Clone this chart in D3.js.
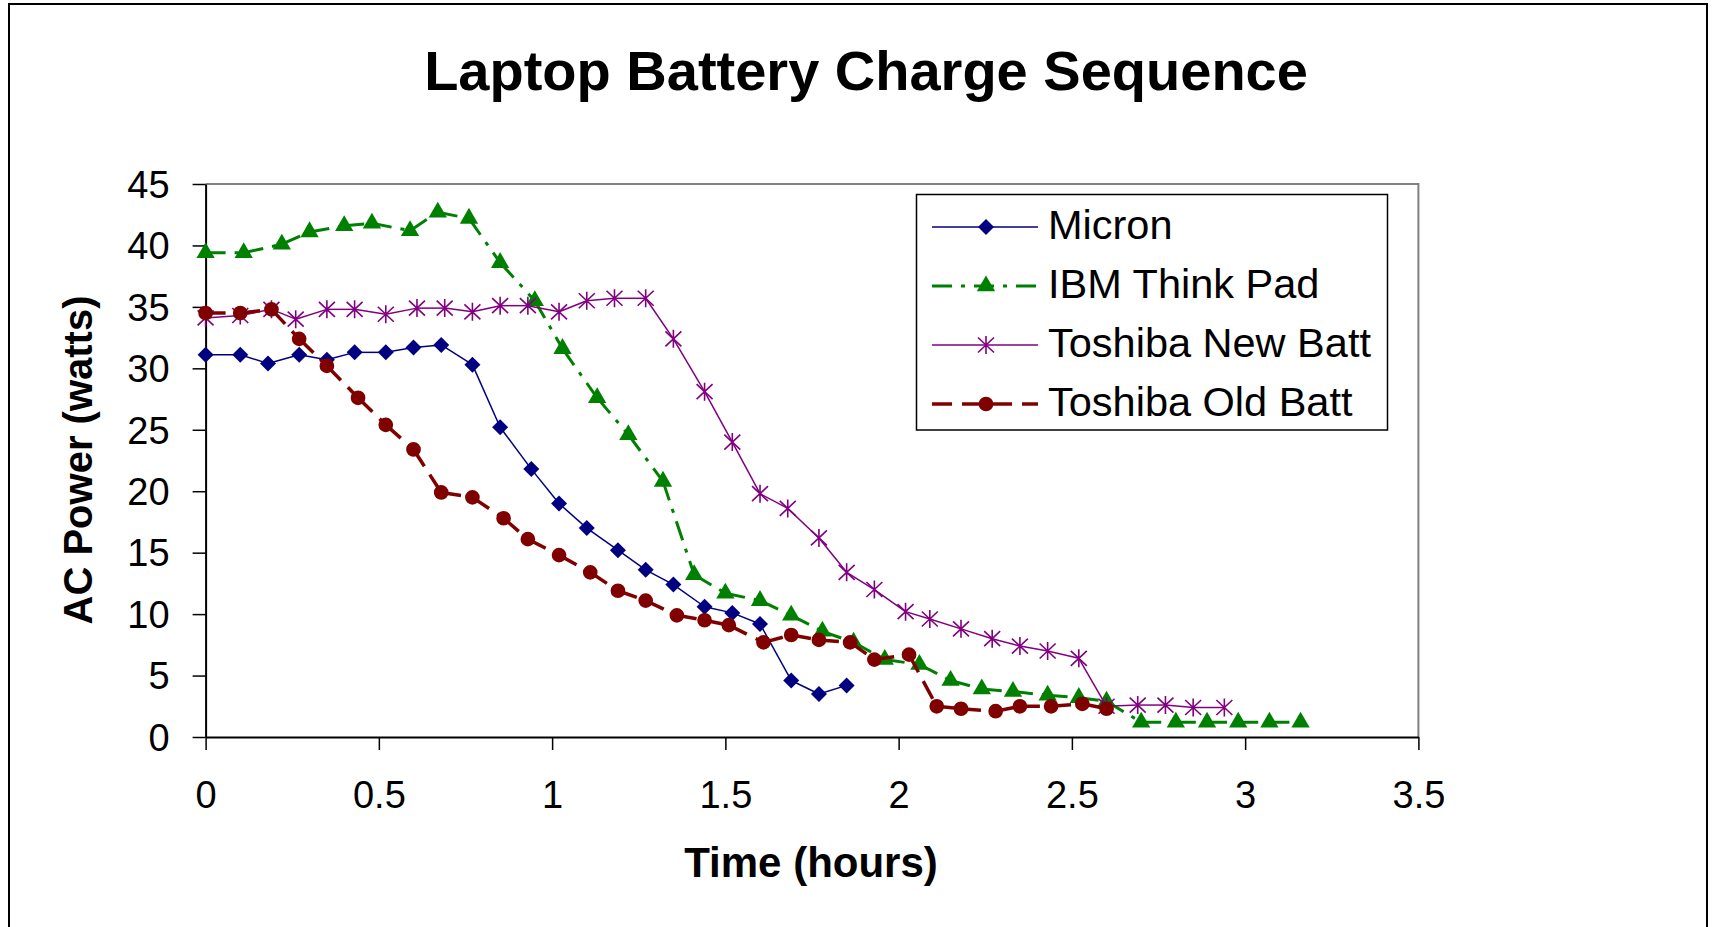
<!DOCTYPE html>
<html>
<head>
<meta charset="utf-8">
<script src="https://cdn.jsdelivr.net/npm/d3@7"></script>
<style>
    body { margin: 0; background: #fff; }
    #chart-area { width: 1715px; height: 927px; }
    text { font-family: "Liberation Sans", Arial, sans-serif; fill: #000; }
</style>
</head>
<body>
<div id="chart-area"></div>
<script>
// data (time in hours, AC power in watts)
const micronTime = [0, 0.10, 0.18, 0.27, 0.35, 0.43, 0.52, 0.60, 0.68, 0.77, 0.85, 0.94, 1.02, 1.10, 1.19, 1.27, 1.35, 1.44, 1.52, 1.60, 1.69, 1.77, 1.85];
const micronPower = [31.1, 31.1, 30.4, 31.1, 30.7, 31.3, 31.3, 31.7, 31.9, 30.3, 25.2, 21.8, 19.0, 17.0, 15.2, 13.6, 12.4, 10.6, 10.1, 9.2, 4.6, 3.5, 4.2];

const ibmTime = [0, 0.11, 0.22, 0.30, 0.40, 0.48, 0.59, 0.67, 0.76, 0.85, 0.95, 1.03, 1.13, 1.22, 1.32, 1.41, 1.50, 1.60, 1.69, 1.78, 1.87, 1.96, 2.06, 2.15, 2.24, 2.33, 2.43, 2.52, 2.60, 2.70, 2.80, 2.89, 2.98, 3.07, 3.16];
const ibmPower = [39.4, 39.4, 40.1, 41.1, 41.6, 41.8, 41.2, 42.7, 42.2, 38.6, 35.5, 31.6, 27.6, 24.6, 20.8, 13.2, 11.7, 11.1, 9.9, 8.6, 7.7, 6.3, 5.9, 4.6, 3.9, 3.7, 3.4, 3.2, 2.9, 1.2, 1.2, 1.2, 1.2, 1.2, 1.2];

const toshNewTime = [0, 0.10, 0.19, 0.26, 0.35, 0.43, 0.52, 0.61, 0.69, 0.77, 0.85, 0.93, 1.02, 1.10, 1.18, 1.27, 1.35, 1.44, 1.52, 1.60, 1.68, 1.77, 1.85, 1.93, 2.02, 2.09, 2.18, 2.27, 2.35, 2.43, 2.52, 2.60, 2.69, 2.77, 2.85, 2.94];
const toshNewPower = [34.1, 34.3, 34.8, 34.0, 34.8, 34.8, 34.4, 34.9, 34.9, 34.6, 35.1, 35.1, 34.6, 35.5, 35.7, 35.7, 32.4, 28.1, 24.0, 19.8, 18.6, 16.2, 13.4, 12.0, 10.2, 9.6, 8.8, 8.0, 7.4, 7.0, 6.4, 2.5, 2.6, 2.6, 2.4, 2.4];

const toshOldTime = [0, 0.10, 0.19, 0.27, 0.35, 0.44, 0.52, 0.60, 0.68, 0.77, 0.86, 0.93, 1.02, 1.11, 1.19, 1.27, 1.36, 1.44, 1.51, 1.61, 1.69, 1.77, 1.86, 1.93, 2.03, 2.11, 2.18, 2.28, 2.35, 2.44, 2.53, 2.60];
const toshOldPower = [34.5, 34.5, 34.8, 32.4, 30.2, 27.6, 25.4, 23.4, 19.9, 19.5, 17.8, 16.1, 14.8, 13.4, 11.9, 11.1, 9.9, 9.5, 9.1, 7.7, 8.3, 7.9, 7.7, 6.3, 6.7, 2.5, 2.3, 2.1, 2.5, 2.5, 2.7, 2.3];

const seriesNames = ["Micron", "IBM Think Pad", "Toshiba New Batt", "Toshiba Old Batt"];
const xTicks = [0, 0.5, 1, 1.5, 2, 2.5, 3, 3.5];
const yTicks = [0, 5, 10, 15, 20, 25, 30, 35, 40, 45];

class LineChart {
    constructor(parentElement) {
        this.parentElement = parentElement;
        this.initVis();
    }

    initVis() {
        let vis = this;

        vis.width = 1715;
        vis.height = 927;
        vis.plot = { left: 205.6, right: 1418.4, top: 184, bottom: 737 };

        vis.svg = d3.select("#" + vis.parentElement).append("svg")
            .attr("width", vis.width)
            .attr("height", vis.height);

        // outer chart frame
        vis.svg.append("rect")
            .attr("x", 9).attr("y", 4)
            .attr("width", 1698).attr("height", 1000)
            .attr("fill", "none")
            .attr("stroke", "#000")
            .attr("stroke-width", 2);

        // title
        vis.svg.append("text")
            .attr("x", 866).attr("y", 90)
            .attr("text-anchor", "middle")
            .attr("font-size", 56)
            .attr("font-weight", "bold")
            .text("Laptop Battery Charge Sequence");

        // scales
        vis.x = d3.scaleLinear().domain([0, 3.5]).range([vis.plot.left, vis.plot.right]);
        vis.y = d3.scaleLinear().domain([0, 45]).range([vis.plot.bottom, vis.plot.top]);

        // gray top / right border of plot area
        vis.svg.append("path")
            .attr("d", `M${vis.plot.left},${vis.plot.top}H${vis.plot.right}V${vis.plot.bottom}`)
            .attr("fill", "none")
            .attr("stroke", "#808080")
            .attr("stroke-width", 2);

        // axes
        let xAxis = vis.svg.append("g")
            .attr("transform", `translate(0, ${vis.plot.bottom})`)
            .call(d3.axisBottom(vis.x).tickValues(xTicks).tickSize(13).tickPadding(0).tickSizeOuter(0)
                .tickFormat(d => d));
        let yAxis = vis.svg.append("g")
            .attr("transform", `translate(${vis.plot.left}, 0)`)
            .call(d3.axisLeft(vis.y).tickValues(yTicks).tickSize(13).tickPadding(0).tickSizeOuter(0));

        [xAxis, yAxis].forEach(ax => {
            ax.select(".domain").attr("stroke", "#000").attr("stroke-width", 2);
            ax.selectAll(".tick line").attr("stroke", "#000").attr("stroke-width", 1.5);
            ax.selectAll(".tick text")
                .attr("font-family", "Liberation Sans, Arial, sans-serif")
                .attr("font-size", 38)
                .attr("fill", "#000");
        });
        xAxis.selectAll(".tick text").attr("y", 71).attr("dy", 0);
        yAxis.selectAll(".tick text").attr("x", -36).attr("dy", "0.35em");

        // axis titles
        vis.svg.append("text")
            .attr("x", 811).attr("y", 877)
            .attr("text-anchor", "middle")
            .attr("font-size", 42)
            .attr("font-weight", "bold")
            .text("Time (hours)");
        vis.svg.append("text")
            .attr("transform", "translate(92, 460) rotate(-90)")
            .attr("text-anchor", "middle")
            .attr("font-size", 40)
            .attr("font-weight", "bold")
            .text("AC Power (watts)");

        // marker shapes
        vis.markers = {
            diamond: "M0,-8L8,0L0,8L-8,0Z",
            triangle: d3.symbol().type(d3.symbolTriangle).size(145)(),
            asterisk: "M-8,-7.5L8,7.5M-8,7.5L8,-7.5M0,-9L0,9",
            circle: d3.symbol().type(d3.symbolCircle).size(170)()
        };

        vis.series = [
            { name: seriesNames[0], time: micronTime, power: micronPower, color: "#000080", width: 1.5, dash: null, marker: "diamond" },
            { name: seriesNames[1], time: ibmTime, power: ibmPower, color: "#008000", width: 3, dash: "20,9,4,9", marker: "triangle" },
            { name: seriesNames[2], time: toshNewTime, power: toshNewPower, color: "#800080", width: 1.5, dash: null, marker: "asterisk" },
            { name: seriesNames[3], time: toshOldTime, power: toshOldPower, color: "#800000", width: 3.5, dash: "20,10", marker: "circle" }
        ];

        this.wrangleData();
    }

    wrangleData() {
        let vis = this;
        vis.displayData = vis.series.map(s => ({
            ...s,
            points: s.time.map((t, i) => ({ t: t, p: s.power[i] }))
        }));
        vis.updateVis();
    }

    markerStyle(sel, s) {
        if (s.marker === "asterisk") {
            sel.attr("fill", "none").attr("stroke", s.color).attr("stroke-width", 1.6);
        } else {
            sel.attr("fill", s.color).attr("stroke", "none");
        }
    }

    updateVis() {
        let vis = this;

        vis.displayData.forEach(s => {
            let g = vis.svg.append("g").attr("class", "series");

            // Excel restarts the dash pattern on every segment
            g.selectAll(".seg")
                .data(d3.pairs(s.points))
                .enter().append("line")
                .attr("class", "seg")
                .attr("x1", d => vis.x(d[0].t))
                .attr("y1", d => vis.y(d[0].p))
                .attr("x2", d => vis.x(d[1].t))
                .attr("y2", d => vis.y(d[1].p))
                .attr("stroke", s.color)
                .attr("stroke-width", s.width)
                .attr("stroke-dasharray", s.dash);

            g.selectAll(".mark")
                .data(s.points)
                .enter().append("path")
                .attr("class", "mark")
                .attr("d", vis.markers[s.marker])
                .attr("transform", d => `translate(${vis.x(d.t)}, ${vis.y(d.p)})`)
                .call(sel => vis.markerStyle(sel, s));
        });

        // legend
        let legend = vis.svg.append("g").attr("class", "legend");
        legend.append("rect")
            .attr("x", 916.5).attr("y", 194.5)
            .attr("width", 471).attr("height", 235.5)
            .attr("fill", "#fff")
            .attr("stroke", "#000")
            .attr("stroke-width", 1.5);

        let rows = legend.selectAll(".legend-row")
            .data(vis.displayData)
            .enter().append("g")
            .attr("class", "legend-row")
            .attr("transform", (d, i) => `translate(0, ${227 + i * 59})`);

        rows.append("line")
            .attr("x1", 932).attr("x2", 1038)
            .attr("y1", 0).attr("y2", 0)
            .attr("stroke", d => d.color)
            .attr("stroke-width", d => d.width)
            .attr("stroke-dasharray", d => d.dash);

        rows.each(function (d) {
            d3.select(this).append("path")
                .attr("d", vis.markers[d.marker])
                .attr("transform", "translate(986, 0)")
                .call(sel => vis.markerStyle(sel, d));
        });

        rows.append("text")
            .attr("x", 1048).attr("y", 12)
            .attr("font-size", 41.5)
            .text(d => d.name);
    }
}

new LineChart("chart-area");
</script>
</body>
</html>
